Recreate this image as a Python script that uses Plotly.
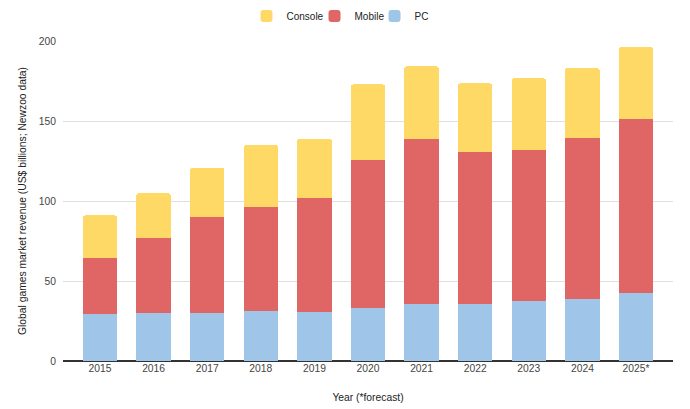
import plotly.graph_objects as go

years = ["2015", "2016", "2017", "2018", "2019", "2020", "2021", "2022", "2023", "2024", "2025*"]
pc = [29.6, 30.0, 30.0, 31.0, 30.6, 33.3, 35.8, 35.4, 37.5, 39.0, 42.7]
mobile = [34.8, 46.7, 60.0, 65.5, 71.1, 92.3, 103.2, 95.0, 94.5, 100.4, 108.3]
console = [26.6, 28.1, 30.8, 38.5, 37.3, 47.3, 45.2, 43.1, 44.7, 43.7, 45.3]

font_family = "Liberation Sans, Arial, sans-serif"
fs = 10.3

fig = go.Figure()
fig.add_trace(go.Bar(name="PC", x=years, y=pc, marker_color="#9fc5e8", marker_line_width=0,
                     legend="legend3", showlegend=True))
fig.add_trace(go.Bar(name="Mobile", x=years, y=mobile, marker_color="#e06666", marker_line_width=0,
                     legend="legend2", showlegend=True))
fig.add_trace(go.Bar(name="Console", x=years, y=console, marker_color="#ffd966", marker_line_width=0,
                     legend="legend", showlegend=True))

leg_common = dict(orientation="h", xanchor="left", y=1.078, yanchor="middle",
                  font=dict(size=10, color="#222222"), bgcolor="rgba(0,0,0,0)")

fig.update_layout(
    width=690, height=409,
    showlegend=True,
    barmode="stack",
    bargap=0.355,
    barcornerradius=3,
    plot_bgcolor="white", paper_bgcolor="white",
    margin=dict(l=63, r=17, t=41, b=48, autoexpand=False),
    font=dict(family=font_family, size=fs, color="#444444"),
    legend=dict(x=0.3008, **leg_common),
    legend2=dict(x=0.4123, **leg_common),
    legend3=dict(x=0.5107, **leg_common),
    xaxis=dict(range=[-0.69, 10.69], showgrid=False, ticks="", showline=False,
               tickangle=0,
               tickfont=dict(size=fs, color="#444444"),
               title=dict(text="Year (*forecast)", font=dict(size=fs, color="#222222"), standoff=20)),
    yaxis=dict(range=[0, 200], tickvals=[0, 50, 100, 150, 200], showgrid=True,
               gridcolor="#e0e0e0", gridwidth=1, zeroline=True, zerolinecolor="#333333",
               zerolinewidth=1.5, ticks="", showline=False,
               tickfont=dict(size=fs, color="#444444"), ticklabelstandoff=6,
               title=dict(text="Global games market revenue (US$ billions; Newzoo data)",
                          font=dict(size=fs, color="#222222"), standoff=10)),
)

fig.write_html("out.html")
